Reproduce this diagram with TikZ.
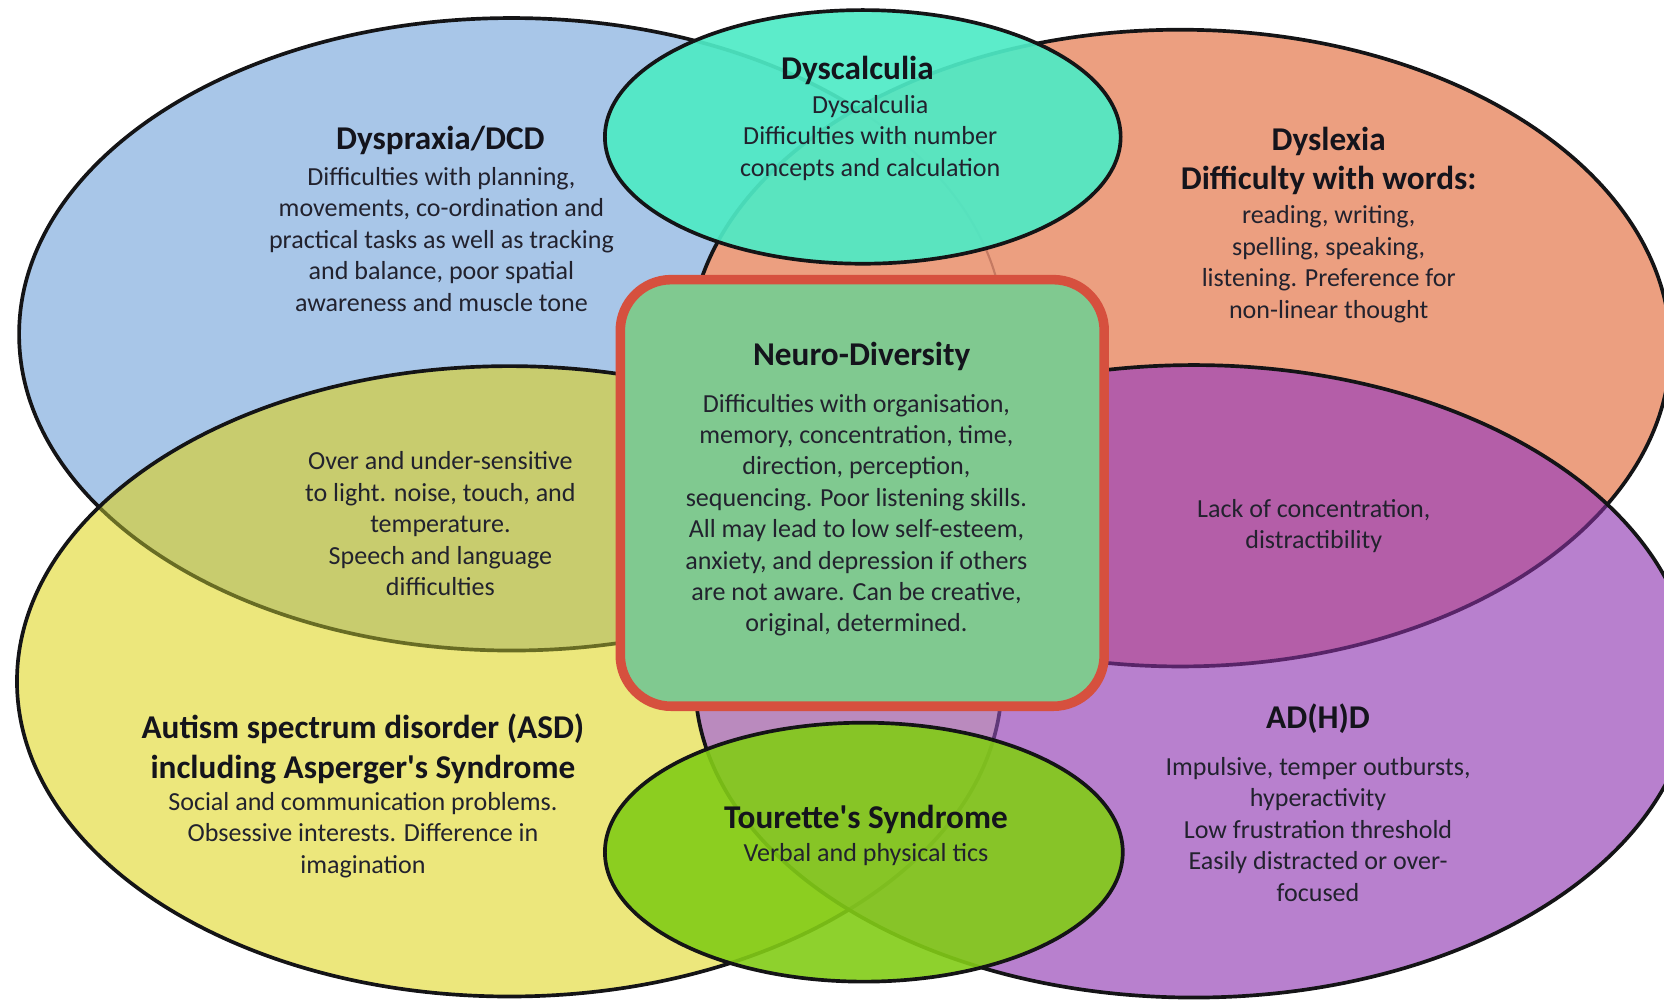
\documentclass[tikz,border=0pt]{standalone}
\usepackage{fontspec}
\setmainfont{Carlito}

\tikzset{every picture/.style={line width=0.75pt}}
\tikzset{
	region edge/.style={draw={rgb, 255:red, 20; green, 20; blue, 22 }, line width=2.6pt},
	title text/.style={font=\fontsize{23.5}{28}\selectfont\bfseries, text={rgb, 255:red, 20; green, 20; blue, 28 }, align=center, inner sep=0.75pt},
	body text/.style={font=\fontsize{18.4}{22.2}\selectfont, text={rgb, 255:red, 34; green, 34; blue, 46 }, align=center, inner sep=0.75pt}
}
% outlines of the six regions, used for fills, clips and edges
\newcommand{\dyspraxiaPath}{(482,315) ellipse [x radius=464, y radius=298]}
\newcommand{\autismPath}{(480,642) ellipse [x radius=464, y radius=297]}
\newcommand{\dyslexiaPath}{(1112,328) ellipse [x radius=462, y radius=300]}
\newcommand{\adhdPath}{(1125,642) ellipse [x radius=470, y radius=298]}
\newcommand{\dyscalculiaPath}{(813,129) ellipse [x radius=243, y radius=119.5]}
\newcommand{\tourettePath}{(814,803) ellipse [x radius=244, y radius=122]}

\begin{document}
\begin{tikzpicture}[x=0.75pt,y=0.75pt,yscale=-1,xscale=1]
\path [use as bounding box] (0,0) rectangle (1568,943);
\clip (0,0) rectangle (1568,943);

%Shape: Ellipse (Dyspraxia)
\fill [color={rgb, 255:red, 168; green, 198; blue, 232 }] \dyspraxiaPath ;
\draw [region edge] \dyspraxiaPath ;
%Shape: Ellipse (Autism)
\fill [color={rgb, 255:red, 236; green, 231; blue, 124 }] \autismPath ;
\begin{scope}
\clip \dyspraxiaPath ;
\fill [color={rgb, 255:red, 200; green, 204; blue, 110 }] \autismPath ;
\end{scope}
\begin{scope}
\clip \autismPath ;
\draw [region edge, draw={rgb, 255:red, 104; green, 108; blue, 36 }] \dyspraxiaPath ;
\end{scope}
\draw [region edge] \autismPath ;
%Shape: Ellipse (Dyslexia)
\fill [color={rgb, 255:red, 236; green, 159; blue, 128 }] \dyslexiaPath ;
\begin{scope}
\clip \dyslexiaPath ;
\draw [region edge, draw={rgb, 255:red, 196; green, 122; blue, 98 }, line width=1.5pt] \dyspraxiaPath ;
\end{scope}
\draw [region edge] \dyslexiaPath ;
%Shape: Ellipse (ADHD)
\fill [color={rgb, 255:red, 184; green, 128; blue, 206 }] \adhdPath ;
\begin{scope}
\clip \dyslexiaPath ;
\fill [color={rgb, 255:red, 180; green, 94; blue, 168 }] \adhdPath ;
\end{scope}
\begin{scope}
\clip \autismPath ;
\fill [color={rgb, 255:red, 186; green, 138; blue, 190 }] \adhdPath ;
\end{scope}
\begin{scope}
\clip \adhdPath ;
\draw [region edge, draw={rgb, 255:red, 88; green, 36; blue, 104 }] \dyslexiaPath ;
\draw [region edge, draw={rgb, 255:red, 96; green, 56; blue, 120 }] \autismPath ;
\end{scope}
\draw [region edge] \adhdPath ;

%Shape: Ellipse (Dyscalculia)
\fill [color={rgb, 255:red, 78; green, 234; blue, 197 }, fill opacity=0.92] \dyscalculiaPath ;
\draw [region edge] \dyscalculiaPath ;
%Shape: Ellipse (Tourette)
\fill [color={rgb, 255:red, 130; green, 204; blue, 22 }, fill opacity=0.9] \tourettePath ;
\draw [region edge] \tourettePath ;

%Rounded Rect (Neuro-Diversity)
\draw [draw={rgb, 255:red, 214; green, 80; blue, 62 }, line width=6.75pt, fill={rgb, 255:red, 128; green, 201; blue, 144 }, rounded corners=36pt] (584.5,263.5) rectangle (1040.5,665.5) ;

% Text Node
\draw (808,66) node [title text] (dyscalculiaTitle) {Dyscalculia};
% Text Node
\draw (820,130) node [body text] (dyscalculiaText) {Dyscalculia\\Difficulties with number\\concepts and calculation};
% Text Node
\draw (415,132) node [title text] (dyspraxiaTitle) {Dyspraxia/DCD};
% Text Node
\draw (416,225.5) node [body text] (dyspraxiaText) {Difficulties with planning,\\movements, co-ordination and\\practical tasks as well as tracking\\and balance, poor spatial\\awareness and muscle tone};
% Text Node
\draw (1252,151.5) node [title text] (dyslexiaTitle) {Dyslexia\\Difficulty with words:};
% Text Node
\draw (1252,249) node [body text] (dyslexiaText) {reading, writing,\\spelling, speaking,\\listening. Preference for\\non-linear thought};
% Text Node
\draw (812,336) node [title text] (neuroTitle) {Neuro-Diversity};
% Text Node
\draw (807,485.5) node [body text] (neuroText) {Difficulties with organisation,\\memory, concentration, time,\\direction, perception,\\sequencing. Poor listening skills.\\All may lead to low self-esteem,\\anxiety, and depression if others\\are not aware. Can be creative,\\original, determined.};
% Text Node
\draw (415,493.5) node [body text] (sensoryText) {Over and under-sensitive\\to light. noise, touch, and\\temperature.\\Speech and language\\difficulties};
% Text Node
\draw (1238,495.5) node [body text] (attentionText) {Lack of concentration,\\distractibility};
% Text Node
\draw (342,706) node [title text] (autismTitle) {Autism spectrum disorder (ASD)\\including Asperger\textquotesingle s Syndrome};
% Text Node
\draw (342,787) node [body text] (autismText) {Social and communication problems.\\Obsessive interests. Difference in\\imagination};
% Text Node
\draw (816,772) node [title text] (touretteTitle) {Tourette\textquotesingle s Syndrome};
% Text Node
\draw (816,805) node [body text] (touretteText) {Verbal and physical tics};
% Text Node
\draw (1242,677) node [title text] (adhdTitle) {AD(H)D};
% Text Node
\draw (1242,781.5) node [body text] (adhdText) {Impulsive, temper outbursts,\\hyperactivity\\Low frustration threshold\\Easily distracted or over-\\focused};

\end{tikzpicture}
\end{document}
